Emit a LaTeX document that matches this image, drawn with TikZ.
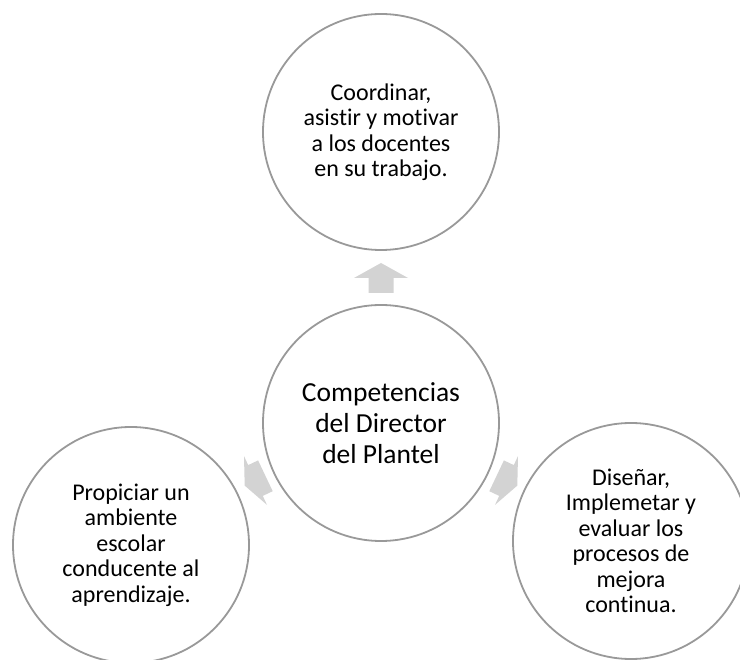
\documentclass[tikz,border=0pt]{standalone}
\usepackage{fontspec}
\setmainfont{Carlito}[Ligatures=NoCommon]
\definecolor{ringgray}{HTML}{999999}
\definecolor{arrowgray}{HTML}{D3D3D3}
\begin{document}
\begin{tikzpicture}[x=1pt,y=-1pt,
  bubble/.style={circle, draw=ringgray, line width=1.8pt, fill=white,
    minimum size=236pt, inner sep=0pt, align=center},
  outertext/.style={font=\fontsize{24}{25.5}\selectfont},
  hubtext/.style={font=\fontsize{27.5}{31}\selectfont},
  blockarrow/.style={fill=arrowgray, draw=none}]
\useasboundingbox (0,0) rectangle (740,660);

% block arrows pointing from the hub to each outer bubble
\fill[blockarrow] (381,263) -- (408,278) -- (393.5,278) -- (393.5,293)
  -- (368.5,293) -- (368.5,278) -- (354,278) -- cycle;
\fill[blockarrow] (517.3,485.6) -- (518,456.1) -- (513.8,465.1)
  -- (503.9,460.4) -- (489.3,491.2) -- (499.2,495.9) -- (495,504.9) -- cycle;
\fill[blockarrow] (244.7,485.6) -- (244,456.1) -- (248.2,465.1)
  -- (258.1,460.4) -- (272.7,491.2) -- (262.8,495.9) -- (267,504.9) -- cycle;

% bubbles
\node[bubble, hubtext] (hub) at (381,423)
  {Competencias\\del Director\\del Plantel};
\node[bubble, outertext] (top) at (381,132)
  {Coordinar,\\asistir y motivar\\a los docentes\\en su trabajo.};
\node[bubble, outertext] (left) at (131,545)
  {Propiciar un\\ambiente\\escolar\\conducente al\\aprendizaje.};
\node[bubble, outertext] (right) at (631,541)
  {Diseñar,\\Implemetar y\\evaluar los\\procesos de\\mejora\\continua.};
\end{tikzpicture}
\end{document}
